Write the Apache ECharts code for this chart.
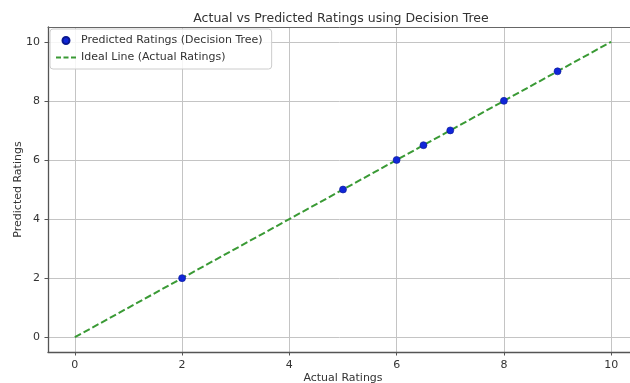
<!DOCTYPE html>
<html>
<head>
<meta charset="utf-8">
<script src="https://cdn.jsdelivr.net/npm/echarts@6/dist/echarts.min.js"></script>
<style>html,body{margin:0;padding:0;background:#fff;}#c{width:630px;height:383px;}</style>
</head>
<body>
<div id="c"></div>
<script>
const actual = [2, 5, 6, 6.5, 7, 8, 9];
const predicted = [2, 5, 6, 6.5, 7, 8, 9];
const idealX = [0, 10];
const idealY = [0, 10];
const xTicks = [0, 2, 4, 6, 8, 10];
const yTicks = [0, 2, 4, 6, 8, 10];
const titleText = 'Actual vs Predicted Ratings using Decision Tree';
const scatterName = 'Predicted Ratings (Decision Tree)';
const lineName = 'Ideal Line (Actual Ratings)';

const font = 'DejaVu Sans';
const chart = echarts.init(document.getElementById('c'), null, {renderer: 'canvas'});
const axisCommon = {
  type: 'value', min: -0.5, max: 10.5,
  axisLine: {show: true, onZero: false, lineStyle: {color: '#555', width: 1.3}},
  axisTick: {show: true, length: 3.5, lineStyle: {color: '#555'}},
  splitLine: {show: true, lineStyle: {color: '#c4c4c4', width: 1}},
  nameLocation: 'middle',
  nameMoveOverlap: false,
  nameTextStyle: {fontFamily: font, fontSize: 11, color: '#333'}
};
chart.setOption({
  animation: false,
  backgroundColor: '#fff',
  title: {text: titleText, left: 336, top: 7, textAlign: 'center',
    textStyle: {fontFamily: font, fontSize: 12.5, fontWeight: 'normal', color: '#333'}},
  grid: {left: 48, top: 27, width: 590, height: 325, show: false,
    outerBoundsMode: 'none', containLabel: false},
  legend: {
    left: 50, top: 29, orient: 'vertical', itemGap: 6, itemWidth: 20, itemHeight: 7,
    padding: [6, 9, 6, 6],
    backgroundColor: 'rgba(255,255,255,0.85)', borderColor: '#ccc', borderWidth: 1, borderRadius: 3,
    textStyle: {fontFamily: font, fontSize: 11, color: '#333'},
    data: [
      {name: scatterName, icon: 'circle'},
      {name: lineName, icon: 'path://M0,3h5v2h-5z M7.5,3h5v2h-5z M15,3h5v2h-5z', itemStyle: {color: '#3a9a35'}}
    ]
  },
  xAxis: [
    Object.assign({}, axisCommon, {
      name: 'Actual Ratings', nameGap: 21,
      axisTick: Object.assign({}, axisCommon.axisTick, {customValues: xTicks}),
      axisLabel: {customValues: xTicks, margin: 8, fontFamily: font, fontSize: 11, color: '#333'}
    }),
    {
      type: 'value', min: -0.5, max: 10.5, position: 'top',
      axisLine: {show: true, onZero: false, lineStyle: {color: '#666', width: 1}},
      axisTick: {show: false}, axisLabel: {show: false}, splitLine: {show: false}
    }
  ],
  yAxis: Object.assign({}, axisCommon, {
    name: 'Predicted Ratings', nameGap: 24,
    axisTick: Object.assign({}, axisCommon.axisTick, {customValues: yTicks}),
    axisLabel: {customValues: yTicks, margin: 8, fontFamily: font, fontSize: 11, color: '#333'}
  }),
  series: [
    {
      name: lineName, type: 'line', symbol: 'none', z: 2,
      data: idealX.map((x, i) => [x, idealY[i]]),
      lineStyle: {color: '#3a9a35', width: 2, type: [7, 3]},
      itemStyle: {color: '#3a9a35'}
    },
    {
      name: scatterName, type: 'scatter', symbolSize: 7, z: 3,
      data: actual.map((x, i) => [x, predicted[i]]),
      itemStyle: {color: '#1026d8', borderColor: '#0a1890', borderWidth: 0.6, opacity: 1}
    }
  ]
});
</script>
</body>
</html>
